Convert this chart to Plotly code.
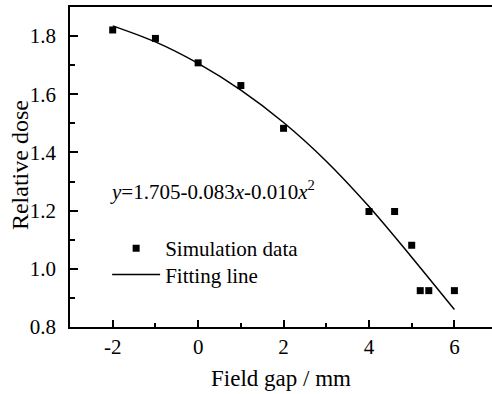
import plotly.graph_objects as go

# Simulation data
sim_x = [-2, -1, 0, 1, 2, 4, 4.6, 5, 5.2, 5.4, 6]
sim_y = [1.821, 1.792, 1.708, 1.630, 1.483, 1.197, 1.197, 1.081, 0.925, 0.925, 0.925]

# Fitting line
fit_x = [-2, -1, 0, 1, 2, 3, 4, 5, 6]
fit_y = [1.835, 1.780, 1.706, 1.614, 1.503, 1.370, 1.214, 1.040, 0.860]

x_ticks = [-2, 0, 2, 4, 6]
y_ticks = [0.8, 1.0, 1.2, 1.4, 1.6, 1.8]

FONT = "Liberation Serif"

fig = go.Figure()
fig.add_trace(go.Scatter(
    x=sim_x, y=sim_y, mode="markers", name="Simulation data",
    marker=dict(symbol="square", size=7, color="black"), legend="legend",
))
fig.add_trace(go.Scatter(
    x=fit_x, y=fit_y, mode="lines", name="Fitting line",
    line=dict(color="black", width=1.5, shape="spline", smoothing=0.8), legend="legend2",
))

fig.add_annotation(
    x=-2.12, y=1.27, xref="x", yref="y", xanchor="left", yanchor="middle",
    text="<i>y</i>=1.705-0.083<i>x</i>-0.010<i>x</i><sup>2</sup>",
    showarrow=False, font=dict(family=FONT, size=21, color="black"),
)
# y-axis title
fig.add_annotation(
    x=-0.1185, y=0.506, xref="paper", yref="paper", xanchor="center", yanchor="middle",
    text="Relative dose", textangle=-90, showarrow=False,
    font=dict(family=FONT, size=24, color="black"),
)

legend_common = dict(
    xanchor="left", yanchor="middle", bgcolor="rgba(0,0,0,0)",
    font=dict(family=FONT, size=21), itemwidth=48,
)

fig.update_layout(
    width=492, height=394,
    margin=dict(l=70, r=0, t=7, b=67),
    paper_bgcolor="white", plot_bgcolor="white",
    font=dict(family=FONT, size=21, color="black"),
    showlegend=True,
    legend=dict(x=0.088, y=0.245, **legend_common),
    legend2=dict(x=0.088, y=0.163, **legend_common),
    xaxis=dict(
        range=[-3, 6.88], tickvals=x_ticks, ticktext=[str(v) for v in x_ticks],
        showline=True, linecolor="black", linewidth=1.5, mirror=True,
        ticks="inside", ticklen=7, tickwidth=1.5, tickcolor="black",
        minor=dict(ticks="inside", dtick=1, tick0=-3, ticklen=4, tickwidth=1.5, tickcolor="black"),
        showgrid=False, zeroline=False, automargin=False,
        tickfont=dict(family=FONT, size=21),
        title=dict(text="Field gap / mm", font=dict(family=FONT, size=23), standoff=12),
    ),
    yaxis=dict(
        range=[0.8, 1.9], tickvals=y_ticks, ticktext=[f"{v:.1f}" for v in y_ticks],
        showline=True, linecolor="black", linewidth=1.5, mirror=False,
        ticks="inside", ticklen=8, tickwidth=1.5, tickcolor="black",
        minor=dict(ticks="inside", dtick=0.1, tick0=0.8, ticklen=5, tickwidth=1.5, tickcolor="black"),
        showgrid=False, zeroline=False, automargin=False,
        tickfont=dict(family=FONT, size=21), ticklabelstandoff=8,
    ),
)

fig.write_html(
    "out.html",
    config={"displayModeBar": False},
    post_script=(
        "document.body.style.margin='0';"
        "document.body.style.overflow='hidden';"
        "document.documentElement.style.overflow='hidden';"
    ),
)
